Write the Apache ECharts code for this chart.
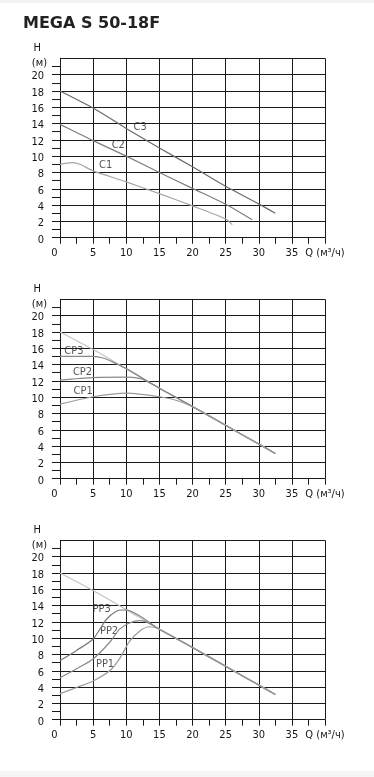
<!DOCTYPE html>
<html>
<head>
<meta charset="utf-8">
<script src="https://cdn.jsdelivr.net/npm/echarts@6/dist/echarts.min.js"></script>
<style>
html,body{margin:0;padding:0;background:#fff;}
#c{width:374px;height:777px;}
</style>
</head>
<body>
<div id="c"></div>
<script>
// ---- data ----
const titleText = 'MEGA S 50-18F';
const xLabelValues = [0, 5, 10, 15, 20, 25, 30, 35, 40];
const yLabelValues = [0, 2, 4, 6, 8, 10, 12, 14, 16, 18, 20];
const yUnitValue = [21];
const yTickValues = [0,1,2,3,4,5,6,7,8,9,10,11,12,13,14,15,16,17,18,19,20,21];
const yName = 'H';
const yUnit = '(м)';
const xUnit = 'Q (м³/ч)';

// chart 1: constant speed curves
const C1 = [[0,9.0],[1,9.15],[2,9.2],[3,9.0],[5,8.2],[10,6.85],[15,5.4],[20,3.9],[25,2.3],[26,1.6]];
const C2 = [[0,13.9],[2.5,12.9],[5,11.9],[10,10.0],[15,8.0],[20,6.05],[25,4.1],[29,2.2]];
const C3 = [[0,18],[5,15.9],[10,13.4],[15,11.0],[20,8.7],[25,6.3],[30,4.15],[32.5,3.0]];

// chart 2 / 3: max curve and constant / proportional pressure curves
const MAXC = [[0,18],[5,15.85],[10,13.5],[15,11.1],[20,8.85],[25,6.55],[30,4.25],[32.5,3.1]];
const CP1 = [[0,9.15],[5,10.05],[10,10.5],[15,10.05],[18,9.5],[21,8.4],[25,6.55],[30,4.25],[32.5,3.1]];
const CP2 = [[0,12.1],[5,12.4],[10,12.45],[12,12.3],[13,12.0],[15,11.1],[20,8.85],[25,6.55],[30,4.25],[32.5,3.1]];
const CP3 = [[0,15.0],[5,15.0],[6.5,14.8],[8,14.3],[10,13.5],[15,11.1],[20,8.85],[25,6.55],[30,4.25],[32.5,3.1]];
const PP1 = [[0,3.2],[2.5,3.95],[5,4.75],[7.5,6.0],[9,7.5],[10.5,9.6],[12,10.85],[13.5,11.4],[15,11.1],[20,8.85],[25,6.55],[30,4.25],[32.5,3.1]];
const PP2 = [[0,5.15],[2.5,6.25],[5,7.45],[7.5,9.5],[9,11.1],[10.5,11.85],[12,12.15],[13,12.0],[15,11.1],[20,8.85],[25,6.55],[30,4.25],[32.5,3.1]];
const PP3 = [[0,7.25],[2.5,8.5],[5,9.9],[7,12.3],[8.5,13.3],[9.5,13.45],[10,13.45],[15,11.1],[20,8.85],[25,6.55],[30,4.25],[32.5,3.1]];

// curve name annotations (anchor in data units)
const labels1 = [[12.1,13.5,'C3'],[8.8,11.4,'C2'],[6.9,8.9,'C1']];
const labels2 = [[2.1,15.6,'CP3'],[3.4,13.1,'CP2'],[3.5,10.75,'CP1']];
const labels3 = [[6.3,13.6,'PP3'],[7.4,10.8,'PP2'],[6.8,6.8,'PP1']];

// ---- chart ----
const FONT = "'DejaVu Sans Condensed', 'DejaVu Sans', sans-serif";
const TXT = '#151515';
const tops = [58.3, 299.3, 540.3];
const grids = tops.map(t => ({left: 60, top: t, width: 265, height: 179.4, containLabel: false}));

const xAxes = [], yAxes = [];
tops.forEach((t, g) => {
  xAxes.push({
    type: 'value', gridIndex: g, min: 0, max: 40, interval: 5,
    axisLine: {show: true, lineStyle: {color: '#1a1a1a', width: 1}},
    axisTick: {show: true, length: 6, lineStyle: {color: '#1a1a1a'}},
    minorTick: {show: true, splitNumber: 2, length: 6, lineStyle: {color: '#1a1a1a'}},
    splitLine: {show: true, lineStyle: {color: '#1a1a1a', width: 1}},
    axisLabel: {
      show: true, margin: 10, color: TXT, fontSize: 11, fontFamily: FONT,
      customValues: xLabelValues, showMinLabel: true, showMaxLabel: true,
      formatter: v => v === 0 ? '{z|0}' : (v === 40 ? xUnit : String(v)),
      rich: {z: {padding: [0, 11, 0, 0], fontSize: 11, fontFamily: FONT, color: TXT}}
    }
  });
  // grid lines
  yAxes.push({
    type: 'value', gridIndex: g, min: 0, max: 22, interval: 2,
    axisLine: {show: true, lineStyle: {color: '#1a1a1a', width: 1}},
    axisTick: {show: false}, axisLabel: {show: false},
    splitLine: {show: true, lineStyle: {color: '#1a1a1a', width: 1}}
  });
  // ticks + numeric labels + name
  yAxes.push({
    type: 'value', gridIndex: g, min: 0, max: 22, interval: 1, position: 'left',
    name: yName, nameLocation: 'end', nameGap: 5,
    nameTextStyle: {color: TXT, fontSize: 11, fontFamily: FONT, align: 'right', padding: [0, 19, 0, 0]},
    axisLine: {show: false},
    axisTick: {show: true, length: 8, customValues: yTickValues, lineStyle: {color: '#1a1a1a'}},
    axisLabel: {
      show: true, margin: 16, color: TXT, fontSize: 11, fontFamily: FONT,
      customValues: yLabelValues, showMinLabel: true, showMaxLabel: true,
      formatter: v => '{n|' + v + '}',
      rich: {n: {padding: [4, 0, 0, 0], fontSize: 11, fontFamily: FONT, color: TXT}}
    },
    splitLine: {show: false}
  });
  // unit label
  yAxes.push({
    type: 'value', gridIndex: g, min: 0, max: 22, interval: 1, position: 'left',
    axisLine: {show: false}, axisTick: {show: false}, splitLine: {show: false},
    axisLabel: {
      show: true, margin: 13, color: TXT, fontSize: 11, fontFamily: FONT,
      customValues: yUnitValue, showMinLabel: true, showMaxLabel: true,
      formatter: () => '{u|' + yUnit + '}',
      rich: {u: {padding: [0, 0, 6, 0], fontSize: 11, fontFamily: FONT, color: TXT}}
    }
  });
});

function line(data, g, color, w) {
  return {type: 'line', data: data, xAxisIndex: g, yAxisIndex: 3 * g, smooth: 0.25,
    showSymbol: false, symbol: 'none', silent: true, animation: false,
    lineStyle: {color: color, width: w || 1.2}};
}
function lab(data, g) {
  return {type: 'scatter', data: data, xAxisIndex: g, yAxisIndex: 3 * g, symbolSize: 1,
    itemStyle: {color: 'rgba(0,0,0,0)'}, silent: true, animation: false,
    label: {show: true, position: 'inside', formatter: p => p.data[2],
      color: '#2a2a2a', fontSize: 11, fontFamily: FONT}};
}

const series = [
  line(C3, 0, '#6a6a6a'), line(C2, 0, '#7c7c7c'), line(C1, 0, '#a6a6a6'), lab(labels1, 0),
  line(MAXC, 1, '#c4c4c4'), line(CP3, 1, '#8a8a8a'), line(CP2, 1, '#8a8a8a'), line(CP1, 1, '#9a9a9a'), lab(labels2, 1),
  line(MAXC, 2, '#c4c4c4'), line(PP3, 2, '#7a7a7a'), line(PP2, 2, '#8a8a8a'), line(PP1, 2, '#9a9a9a'), lab(labels3, 2)
];

const chart = echarts.init(document.getElementById('c'), null, {renderer: 'canvas'});
chart.setOption({
  backgroundColor: '#ffffff',
  animation: false,
  grid: grids, xAxis: xAxes, yAxis: yAxes, series: series,
  graphic: [
    {type: 'rect', left: 0, top: 0, shape: {width: 374, height: 3}, style: {fill: '#f4f4f4'}, silent: true},
    {type: 'rect', left: 0, top: 771, shape: {width: 374, height: 6}, style: {fill: '#f6f6f6'}, silent: true},
    {type: 'text', left: 23, top: 16, style: {text: titleText, fill: '#222', font: "bold 16px 'DejaVu Sans', sans-serif"}, silent: true}
  ]
});
</script>
</body>
</html>
